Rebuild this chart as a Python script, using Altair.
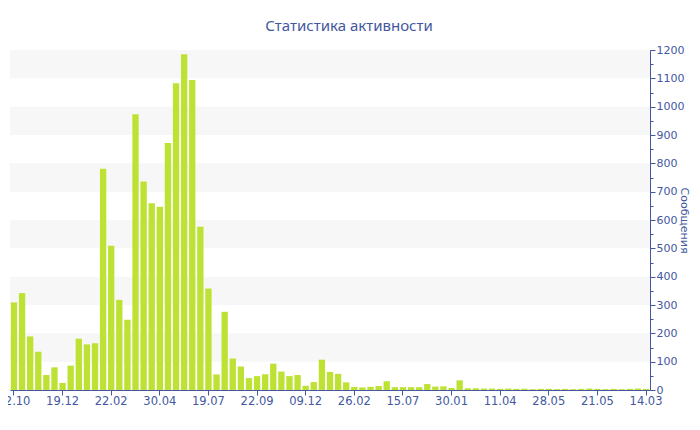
import altair as alt
import pandas as pd

# message counts per period
counts = [309, 342, 189, 135, 53, 80, 25, 86, 181, 161,
          165, 781, 509, 318, 248, 973, 736, 659, 647, 872,
          1083, 1185, 1094, 576, 358, 55, 276, 111, 83, 42,
          49, 56, 93, 65, 49, 53, 15, 28, 107, 64,
          57, 27, 11, 9, 11, 14, 31, 10, 10, 10,
          10, 21, 12, 13, 7, 34, 6, 6, 5, 5,
          4, 5, 4, 4, 3, 4, 4, 3, 4, 3,
          4, 5, 4, 3, 4, 3, 4, 5, 4]

# labels shown on every 6th category
tick_labels = ["12.10", "19.12", "22.02", "30.04", "19.07", "22.09", "09.12",
               "26.02", "15.07", "30.01", "11.04", "28.05", "21.05", "14.03"]
label_step = 6

# alternating background bands
band_lo = [100, 300, 500, 700, 900, 1100]
band_hi = [200, 400, 600, 800, 1000, 1200]

df = pd.DataFrame({"idx": list(range(len(counts))), "count": counts})
bands = pd.DataFrame({"lo": band_lo, "hi": band_hi})

blue = "#4358a0"
font = "DejaVu Sans"

label_expr = "[" + ",".join(f"'{l}'" for l in tick_labels) + f"][datum.value / {label_step}]"

y_scale = alt.Scale(domain=[0, 1200], nice=False)
y_axis = alt.Axis(
    orient="right",
    values=list(range(0, 1201, 50)),
    format="d",
    labelExpr="datum.value % 100 === 0 ? datum.label : ''",
    tickSize={"condition": {"test": "datum.value % 100 === 0", "value": 5}, "value": 3},
    grid=False,
    domainColor=blue,
    tickColor=blue,
    labelColor=blue,
    labelFont=font,
    labelFontSize=11,
    labelPadding=1,
    title="Сообщения",
    titleColor=blue,
    titleFont=font,
    titleFontSize=11,
    titleFontWeight="normal",
    titlePadding=-5,
)

band_layer = alt.Chart(bands).mark_rect(color="#f7f7f7").encode(
    x=alt.value(0),
    x2=alt.value("width"),
    y=alt.Y("lo:Q", scale=y_scale, axis=y_axis),
    y2="hi:Q",
)

bars = alt.Chart(df).mark_bar(color="#bde234").encode(
    x=alt.X(
        "idx:O",
        scale=alt.Scale(paddingInner=0.22, paddingOuter=0.1),
        axis=alt.Axis(
            values=list(range(0, len(counts), label_step)),
            labelExpr=label_expr,
            labelAngle=0,
            labelColor=blue,
            labelFont=font,
            labelFontSize=11.5,
            labelPadding=0,
            tickSize=5,
            tickColor=blue,
            domainColor=blue,
            grid=False,
            title=None,
        ),
    ),
    y=alt.Y("count:Q", scale=y_scale, axis=y_axis),
)

chart = alt.layer(band_layer, bars).properties(
    width=640,
    height=340,
    autosize=alt.AutoSizeParams(type="none"),
    padding={"left": 2, "top": 42, "right": 42, "bottom": 28},
    title=alt.TitleParams(
        "Статистика активности",
        font="Noto Sans",
        fontSize=15,
        fontWeight="normal",
        color=blue,
        anchor="middle",
        frame="group",
        dx=19,
        offset=10,
    ),
).configure_view(stroke=None)

chart.save("out.html", embed_options={"renderer": "svg", "actions": False})
